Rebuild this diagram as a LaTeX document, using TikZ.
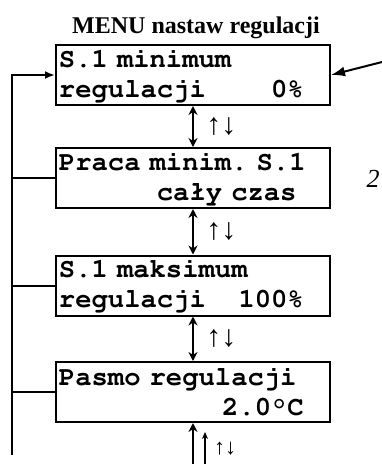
\documentclass[tikz,border=0pt]{standalone}
\usepackage[T1,TU]{fontenc}
\usepackage{fontspec}
\setmainfont{Liberation Serif}
\usetikzlibrary{arrows.meta}

\tikzset{
  lcd/.style={draw, line width=2pt, minimum height=60pt, text width=268pt,
    inner xsep=3pt, inner ysep=0pt, align=left,
    font=\fontencoding{T1}\fontfamily{pcr}\fontseries{b}\fontshape{n}\fontsize{27.2}{30}\selectfont\frenchspacing},
  nav/.style={{Stealth[length=9pt,width=9pt]}-{Stealth[length=9pt,width=9pt]}, line width=2.5pt},
  navthin/.style={{Stealth[length=7pt,width=6pt]}-{Stealth[length=7pt,width=6pt]}, line width=1.5pt},
  lab/.style={font=\fontsize{30}{30}\selectfont, inner sep=12pt},
  loop/.style={line width=2pt}
}

\begin{document}
\begin{tikzpicture}[x=1pt, y=-1pt, auto]
	\useasboundingbox (0,0) rectangle (382,464);
	\node[font=\bfseries\fontsize{24}{24}\selectfont, anchor=base] (t) at (196,33) {MENU nastaw regulacji};

	\node[lcd] (a) at (193,75) {S.1 minimum\\regulacji\hphantom{0000}0\%};
	\node[lcd] (b) at (193,178) {Praca minim. S.1\\\hphantom{000000}ca\l{}y czas};
	\node[lcd] (c) at (193,285.5) {S.1 maksimum\\regulacji\hphantom{00}100\%};
	\node[lcd] (d) at (193,392) {Pasmo regulacji\\\hphantom{0000000000}2.0\textdegree C};

	\draw[nav] (a) to node[lab] {↑↓} (b);
	\draw[nav] (b) to node[lab] {↑↓} (c);
	\draw[nav] (c) to node[lab] {↑↓} (d);

	\coordinate (e) at (193,474);
	\draw[nav] (d) -- (e);
	\coordinate (f) at (205,432);
	\coordinate (f') at (205,472);
	\draw[navthin] (f) -- (f');
	\node[font=\fontsize{22}{22}\selectfont] (g) at (225,449) {↑↓};

	\coordinate (l) at (12,455);
	\draw[loop, -{Latex[length=10pt,width=8pt]}] (l) |- (a);
	\foreach \n in {b,c,d}
		\draw[loop] (\n.west) -- (\n.west -| l);

	\coordinate (r) at (386,61);
	\draw[loop, -{Latex[length=14pt,width=10pt]}] (r) -- (a.east);

	\node[font=\itshape\fontsize{26}{26}\selectfont] (n) at (373,179) {2};
\end{tikzpicture}
\end{document}
